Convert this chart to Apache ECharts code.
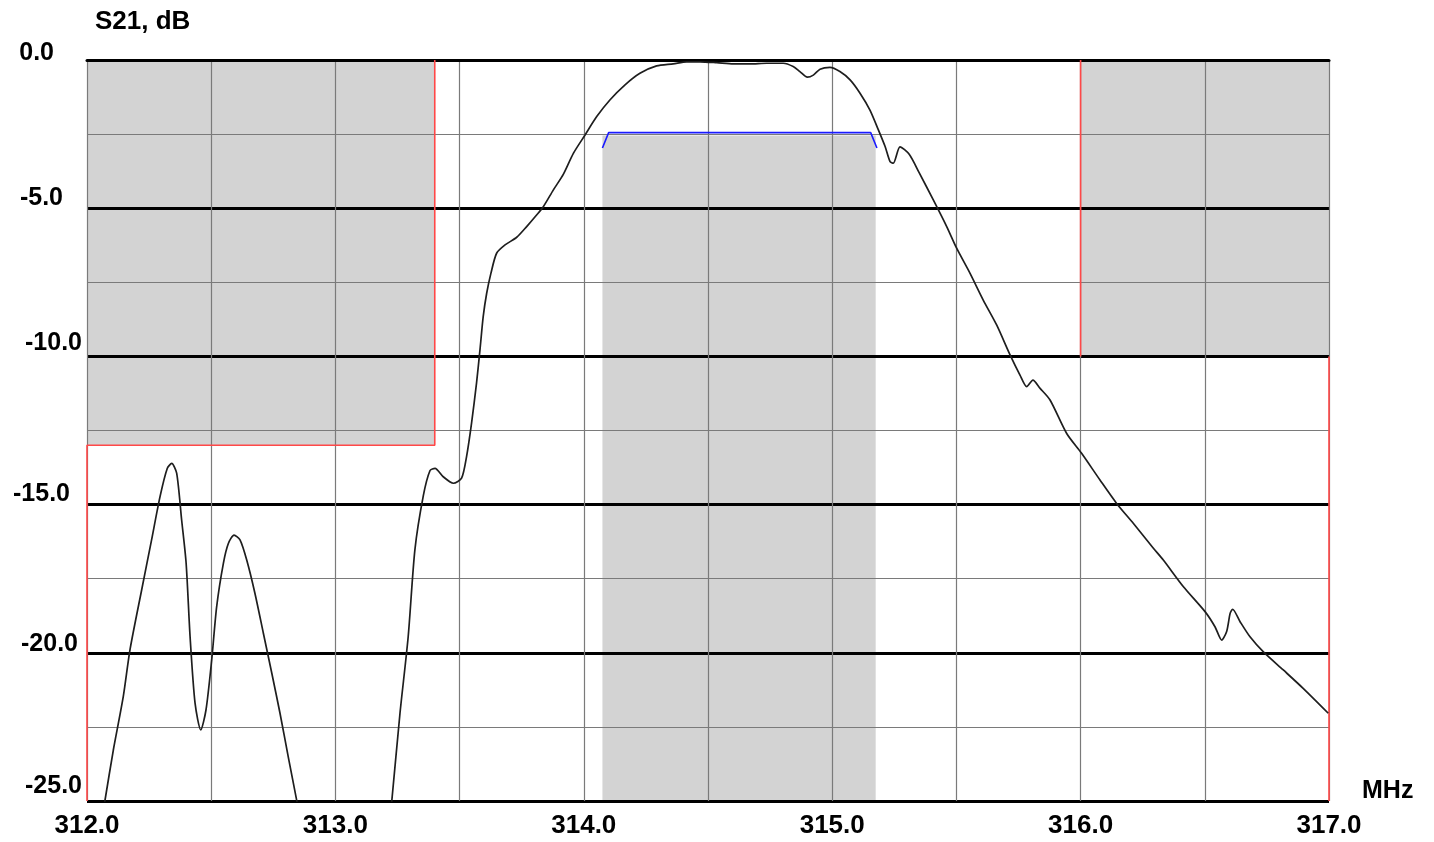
<!DOCTYPE html>
<html>
<head>
<meta charset="utf-8">
<script src="https://cdn.jsdelivr.net/npm/echarts@6/dist/echarts.min.js"></script>
<style>
html,body{margin:0;padding:0;background:#fff;}
#chart{width:1434px;height:842px;}
</style>
</head>
<body>
<div id="chart"></div>
<script>
// ---- data ----
const freqMHz = [312.060,312.072,312.106,312.146,312.173,312.220,312.260,312.294,312.323,312.341,312.361,312.381,312.399,312.415,312.435,312.458,312.479,312.502,312.522,312.549,312.569,312.592,312.616,312.643,312.676,312.710,312.744,312.777,312.810,312.844,312.860,313.000,313.215,313.227,313.260,313.293,313.320,313.354,313.381,313.401,313.434,313.475,313.508,313.528,313.548,313.568,313.582,313.595,313.609,313.626,313.649,313.683,313.730,313.770,313.810,313.837,313.877,313.918,313.958,314.005,314.052,314.105,314.166,314.226,314.293,314.360,314.414,314.468,314.535,314.602,314.669,314.736,314.803,314.843,314.870,314.900,314.924,314.951,314.991,315.031,315.072,315.112,315.152,315.186,315.213,315.233,315.246,315.273,315.310,315.350,315.407,315.461,315.501,315.555,315.608,315.662,315.716,315.756,315.783,315.808,315.837,315.877,315.944,316.004,316.078,316.145,316.212,316.293,316.333,316.414,316.501,316.541,316.568,316.588,316.602,316.612,316.642,316.682,316.735,316.816,316.896,316.997];
const s21dB = [-25.6,-25.0,-23.28,-21.48,-19.9,-17.88,-16.19,-14.73,-13.78,-13.61,-13.94,-15.52,-16.97,-19.46,-21.70,-22.60,-21.93,-20.24,-18.44,-16.98,-16.31,-16.03,-16.19,-16.87,-17.99,-19.34,-20.69,-22.04,-23.50,-24.97,-25.7,null,-25.9,-25.0,-22.04,-19.46,-16.53,-14.7,-13.85,-13.78,-14.06,-14.28,-14.11,-13.38,-12.26,-10.91,-9.78,-8.66,-7.87,-7.20,-6.52,-6.24,-5.98,-5.62,-5.23,-4.95,-4.39,-3.85,-3.15,-2.53,-1.91,-1.35,-0.84,-0.45,-0.20,-0.13,-0.06,-0.06,-0.09,-0.13,-0.13,-0.11,-0.11,-0.22,-0.39,-0.58,-0.51,-0.31,-0.25,-0.39,-0.67,-1.12,-1.69,-2.36,-2.92,-3.43,-3.48,-2.93,-3.18,-3.80,-4.72,-5.62,-6.35,-7.20,-8.10,-8.94,-9.95,-10.63,-11.02,-10.80,-11.08,-11.47,-12.60,-13.27,-14.17,-14.96,-15.63,-16.47,-16.87,-17.77,-18.61,-19.12,-19.57,-19.28,-18.67,-18.53,-18.95,-19.46,-19.96,-20.58,-21.20,-22.04];
// stopband masks (red envelope); null breaks the segment hidden under the -10 dB line
const maskLeft = [[312,-25],[312,-13],[313.4,-13],[313.4,0]];
const maskRight = [[316,0],[316,-10],[316.5,null],[317,-10],[317,-25]];
// passband requirement (blue)
const passSpec = [[314.075,-2.97],[314.1,-2.45],[315.155,-2.45],[315.18,-2.97]];
// shaded regions: [f0, dB0, f1, dB1]
const shadedRegions = [[312,0,313.4,-13],[316,0,317,-10],[314.075,-2.55,315.175,-25]];
// axis
const xMin = 312, xMax = 317, xStep = 1;
const yMin = -25, yMax = 0, yStep = 5;
const yTickLabels = ['-25.0','-20.0','-15.0','-10.0','-5.0','0.0'];

// ---- label styling (per-label nudges to mimic the original layout) ----
const yLabelStyle = {
  '0.0':   {padding:[0,28,13,0]},
  '-5.0':  {padding:[0,19,20,0]},
  '-10.0': {padding:[0,0,27,0]},
  '-15.0': {padding:[0,12,20,0]},
  '-20.0': {padding:[0,4,18,0]},
  '-25.0': {padding:[0,0,30,0]}
};
const FONT = '"Liberation Sans", Arial, sans-serif';
const rich = {};
yTickLabels.forEach((t,i)=>{
  rich['l'+i] = Object.assign({fontFamily:FONT,fontWeight:'bold',fontSize:25,color:'#000',lineHeight:25}, yLabelStyle[t]);
});

const curve = freqMHz.map((f,i)=>[f, s21dB[i]]);

const chart = echarts.init(document.getElementById('chart'), null, {renderer:'canvas'});
chart.setOption({
  animation:false,
  backgroundColor:'#fff',
  grid:{left:87,right:105,top:60,bottom:41,containLabel:false},
  xAxis:{
    type:'value',min:xMin,max:xMax,interval:xStep,
    axisLine:{show:true,lineStyle:{color:'#000',width:3}},
    axisTick:{show:false},
    axisLabel:{margin:12,color:'#000',fontFamily:FONT,fontWeight:'bold',fontSize:26,
      formatter:v=>v.toFixed(1)},
    splitLine:{show:true,lineStyle:{color:'#7a7a7a',width:1.2}},
    minorTick:{show:false,splitNumber:2},
    minorSplitLine:{show:true,lineStyle:{color:'#7a7a7a',width:1.2}}
  },
  yAxis:{
    type:'value',min:yMin,max:yMax,interval:yStep,
    axisLine:{show:false},
    axisTick:{show:false},
    axisLabel:{margin:5,verticalAlign:'middle',
      formatter:v=>{const t=v.toFixed(1);const i=yTickLabels.indexOf(t);return '{l'+i+'|'+t+'}';},
      rich:rich},
    splitLine:{show:true,lineStyle:{color:'#000',width:3}},
    minorTick:{show:false,splitNumber:2},
    minorSplitLine:{show:true,lineStyle:{color:'#7a7a7a',width:1.2}}
  },
  graphic:[
    {type:'text',style:{x:95,y:22,text:'S21, dB',fill:'#000',font:'bold 26px '+FONT,textAlign:'left',textVerticalAlign:'middle'}},
    {type:'text',style:{x:1362,y:791,text:'MHz',fill:'#000',font:'bold 25px '+FONT,textAlign:'left',textVerticalAlign:'middle'}}
  ],
  series:[
    {
      type:'custom',z:-1,silent:true,
      data:shadedRegions,
      encode:{x:[0,2],y:[1,3]},
      renderItem:(params,api)=>{
        const p0=api.coord([api.value(0),api.value(1)]);
        const p1=api.coord([api.value(2),api.value(3)]);
        return {type:'rect',shape:{x:p0[0],y:p0[1],width:p1[0]-p0[0],height:p1[1]-p0[1]},style:{fill:'#d3d3d3'}};
      }
    },
    {type:'line',data:maskLeft,showSymbol:false,clip:false,z:3,lineStyle:{color:'#ff4848',width:1.6}},
    {type:'line',data:maskRight,showSymbol:false,clip:false,connectNulls:false,z:3,lineStyle:{color:'#ff4848',width:1.6}},
    {type:'line',data:passSpec,showSymbol:false,z:4,lineStyle:{color:'#1a1aff',width:1.6}},
    {type:'line',data:curve,showSymbol:false,connectNulls:false,smooth:0.25,z:5,
      lineStyle:{color:'#1e1e1e',width:1.7}}
  ]
});
</script>
</body>
</html>
